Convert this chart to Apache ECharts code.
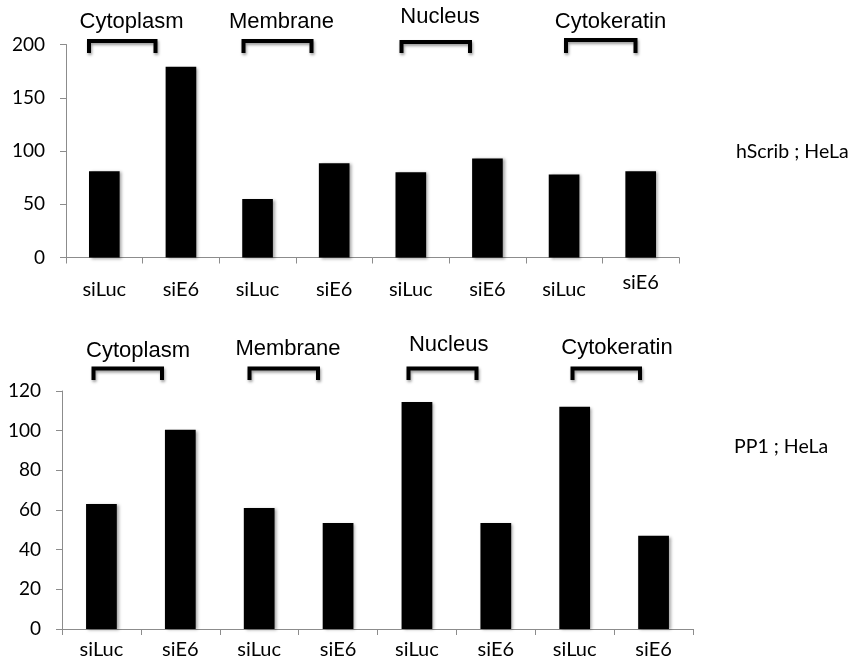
<!DOCTYPE html>
<html>
<head>
<meta charset="utf-8">
<script src="https://cdn.jsdelivr.net/npm/echarts@6/dist/echarts.min.js"></script>
<style>
html,body{margin:0;padding:0;background:#fff;}
#c{width:855px;height:662px;}
</style>
</head>
<body>
<div id="c"></div>
<script>
const categories = ['siLuc','siE6','siLuc','siE6','siLuc','siE6','siLuc','siE6'];
const groups = ['Cytoplasm','Membrane','Nucleus','Cytokeratin'];
const hScribValues = [81, 179, 55, 88.5, 80, 93, 78, 81];
const pp1Values = [63, 100.5, 61, 53.5, 114.5, 53.5, 112, 47];
const topTicks = [0, 50, 100, 150, 200];
const bottomTicks = [0, 20, 40, 60, 80, 100, 120];
const panelTitles = ['hScrib ; HeLa', 'PP1 ; HeLa'];

const chart = echarts.init(document.getElementById('c'), null, {renderer:'canvas'});
const axisColor = '#8c8c8c';
const labelFont = 'Lato';

function yAxis(idx, ticks){
  return {
    type:'value', gridIndex:idx, min:ticks[0], max:ticks[ticks.length-1],
    interval:ticks[1]-ticks[0],
    axisLine:{show:true, lineStyle:{color:axisColor, width:1}},
    axisTick:{show:true, length:6, lineStyle:{color:axisColor}},
    splitLine:{show:false},
    axisLabel:{color:'#000', fontFamily:labelFont, fontSize:19, margin:21}
  };
}
function xAxis(idx, margin, raiseLast){
  return {
    type:'category', gridIndex:idx, data:categories,
    axisLine:{show:true, lineStyle:{color:axisColor, width:1}},
    axisTick:{show:true, length:6, lineStyle:{color:axisColor}},
    axisLabel:{color:'#000', fontFamily:labelFont, fontSize:20, margin:margin, interval:0,
      formatter:function(v,i){ return (raiseLast && i===categories.length-1) ? '{b|'+v+'}' : '{a|'+v+'}'; },
      rich:{a:{fontFamily:labelFont, fontSize:20, padding:[raiseLast?7:0,0,0,0]}, b:{fontFamily:labelFont, fontSize:20}}
    }
  };
}
const barStyle = {color:'#000', shadowColor:'rgba(0,0,0,0.35)', shadowBlur:3, shadowOffsetX:2, shadowOffsetY:1};

function bracket(x1,x2,top,bottom){
  return {type:'polyline', shape:{points:[[x1,bottom],[x1,top],[x2,top],[x2,bottom]]},
    style:{stroke:'#000', lineWidth:4, fill:null, shadowColor:'rgba(0,0,0,0.4)', shadowBlur:3, shadowOffsetX:1, shadowOffsetY:2}};
}
function gtext(t,x,y,size,align,font){
  return {type:'text', style:{text:t, x:x, y:y, fill:'#000', font:size+'px '+(font||'"Liberation Sans"'), textAlign:align||'center', textVerticalAlign:'middle'}};
}

const topBr = [[89,155.5,41,53],[243.5,311.5,41,53],[401.5,470,42,53],[566,635.5,40,53]];
const topTx = [[131.5,22],[281.5,22],[440,17],[610.5,21.5]];
const botBr = [[93.5,162,368.5,380],[249.5,318,368.5,380],[408.5,476.5,368.5,380],[572.5,640,368.5,380]];
const botTx = [[138,350.5],[288,349],[448.7,345],[617,348]];

const graphics = [];
groups.forEach(function(g,i){
  graphics.push(bracket(topBr[i][0],topBr[i][1],topBr[i][2],topBr[i][3]));
  graphics.push(gtext(g, topTx[i][0], topTx[i][1], 22));
  graphics.push(bracket(botBr[i][0],botBr[i][1],botBr[i][2],botBr[i][3]));
  graphics.push(gtext(g, botTx[i][0], botTx[i][1], 22));
});
graphics.push(gtext(panelTitles[0], 736, 152, 19.5, 'left', labelFont));
graphics.push(gtext(panelTitles[1], 734, 447, 19.5, 'left', labelFont));

chart.setOption({
  animation:false,
  grid:[
    {left:66, top:44.5, width:613, height:213, containLabel:false},
    {left:62, top:391, width:631, height:238, containLabel:false}
  ],
  xAxis:[xAxis(0, 15, true), xAxis(1, 11, false)],
  yAxis:[yAxis(0, topTicks), yAxis(1, bottomTicks)],
  series:[
    {type:'bar', xAxisIndex:0, yAxisIndex:0, data:hScribValues, barWidth:'40%', itemStyle:barStyle},
    {type:'bar', xAxisIndex:1, yAxisIndex:1, data:pp1Values, barWidth:'39%', itemStyle:barStyle}
  ],
  graphic:graphics
});
</script>
</body>
</html>
